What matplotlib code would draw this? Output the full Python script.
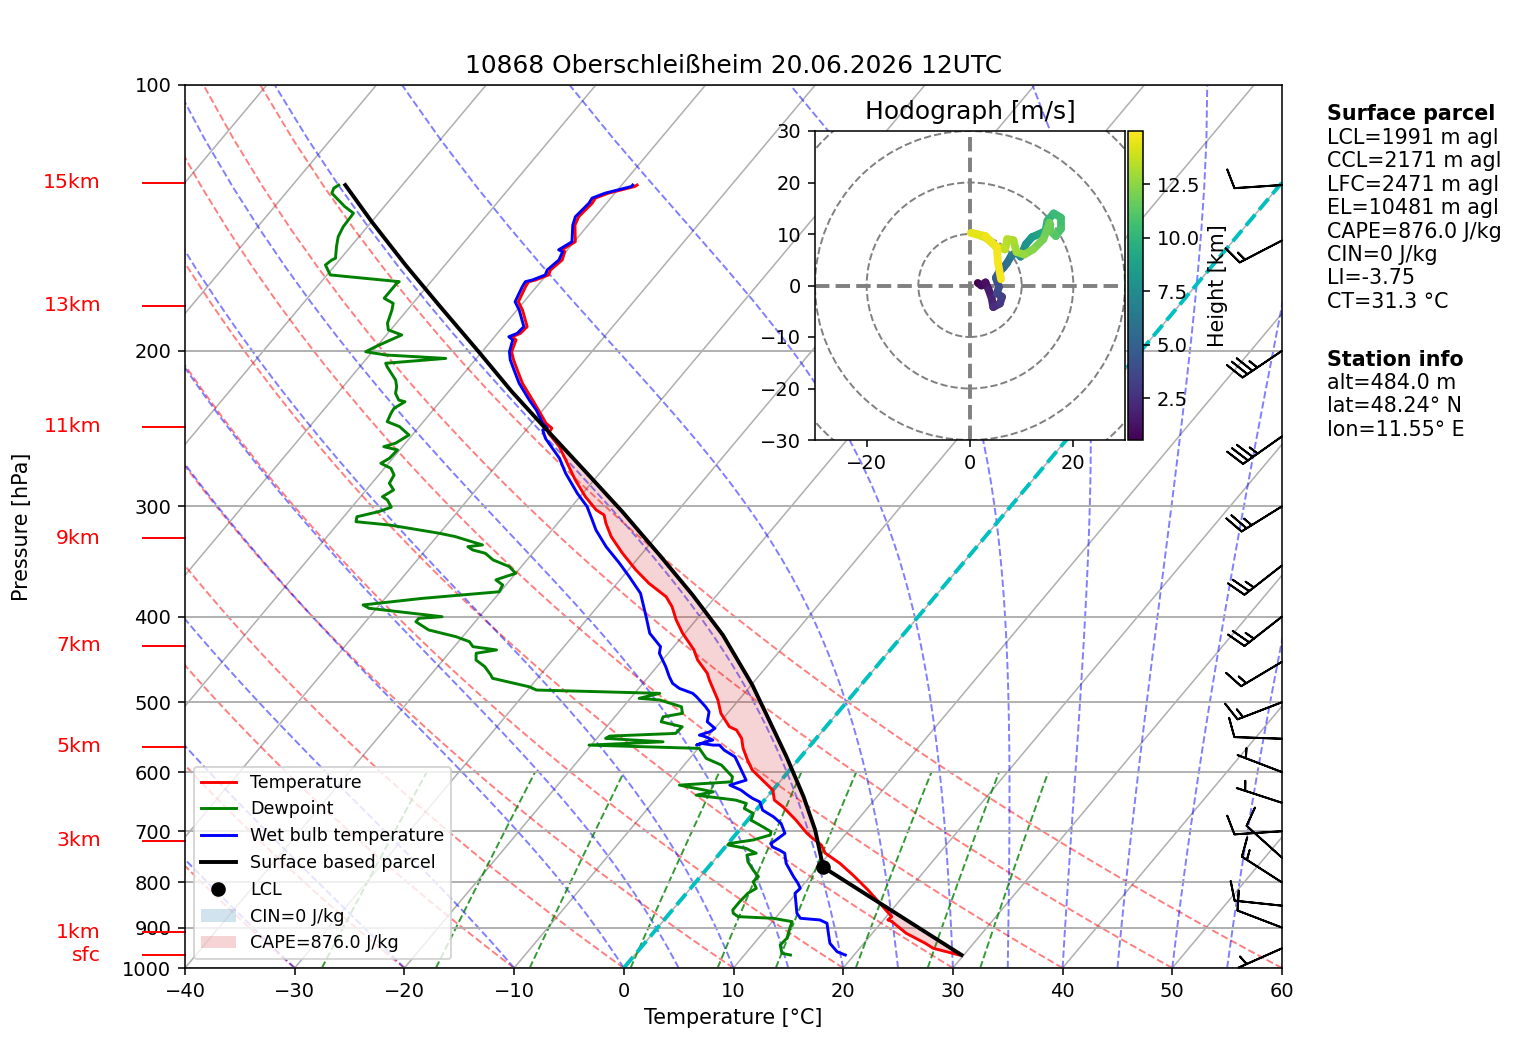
import numpy as np
import matplotlib
matplotlib.use("Agg")
import matplotlib.pyplot as plt
import matplotlib.transforms as mtransforms
from matplotlib.collections import LineCollection
from matplotlib.patches import Patch, Circle
from matplotlib.colors import Normalize
from matplotlib.ticker import NullLocator

# ---------------------------------------------------------------------------
# Sounding data
# ---------------------------------------------------------------------------
T_P = [966.7, 949.9, 937.6, 913.5, 886.1, 882.2, 874.7, 815.9, 784.9, 761.1,
       741.3, 725.5, 713.0, 703.8, 680.1, 656.9, 645.5, 628.9, 612.7, 596.9,
       581.5, 564.0, 549.5, 537.7, 533.1, 514.8, 497.1, 471.9, 463.7, 447.9,
       436.3, 417.8, 403.6, 389.8, 379.8, 366.7, 354.2, 339.1, 324.7, 313.6,
       306.9, 302.9, 292.6, 280.1, 268.2, 256.8, 248.0, 244.7, 241.6, 233.4,
       227.4, 217.7, 210.2, 204.8, 200.5, 194.4, 192.8, 191.1, 187.8, 179.8,
       176.0, 169.2, 167.0, 166.3, 164.1, 162.0, 157.8, 154.4, 153.7, 150.5,
       144.1, 141.0, 136.1, 134.3, 132.6, 130.3, 129.8]
T_C = [29.6, 26.7, 25.6, 23.1, 20.9, 20.4, 20.5, 16.3, 13.8, 11.7,
       9.6, 8.6, 7.3, 6.4, 4.4, 2.2, 0.9, 0.0, -1.7, -3.4,
       -4.6, -5.9, -6.8, -7.9, -8.8, -10.6, -11.9, -14.2, -14.9, -16.8,
       -17.9, -20.2, -21.8, -23.2, -24.5, -27.1, -29.3, -31.8, -34.1, -35.6,
       -36.4, -37.5, -39.5, -41.7, -43.7, -45.7, -47.7, -47.8, -48.7, -50.4,
       -51.7, -53.9, -55.4, -56.5, -57.3, -57.8, -58.4, -57.9, -57.8, -59.5,
       -60.5, -61.0, -61.1, -60.6, -59.8, -60.0, -59.7, -60.1, -60.5, -59.9,
       -61.2, -61.5, -61.3, -61.4, -60.6, -58.7, -58.6]

TD_P = [966.7, 962.4, 941.8, 925.5, 901.7, 886.1, 878.4, 874.7, 867.0, 859.6,
        841.4, 822.9, 812.4, 798.5, 788.1, 774.5, 758.0, 744.9, 741.3, 732.0,
        725.5, 722.8, 716.2, 706.9, 700.8, 689.0, 680.1, 668.3, 659.7, 651.1,
        645.5, 637.2, 631.7, 620.7, 615.4, 607.4, 589.1, 578.9, 564.0, 559.2,
        554.4, 549.5, 546.2, 542.4, 533.1, 526.2, 519.4, 514.8, 506.0, 497.1,
        495.0, 488.6, 484.4, 480.3, 469.8, 465.8, 455.7, 447.9, 440.1, 436.3,
        432.6, 427.0, 421.5, 414.2, 405.4, 401.8, 400.1, 391.4, 388.0, 381.4,
        374.9, 368.3, 363.5, 361.9, 357.3, 351.1, 345.0, 339.1, 336.2, 333.3,
        331.8, 324.7, 321.9, 315.0, 312.3, 308.3, 304.2, 300.7, 295.1, 292.6,
        287.5, 282.5, 276.5, 271.7, 268.2, 264.7, 259.0, 256.8, 254.5, 249.1,
        243.7, 240.6, 235.3, 232.3, 228.4, 227.4, 223.5, 219.7, 215.9, 208.5,
        206.6, 204.0, 202.2, 200.5, 197.9, 191.9, 189.4, 186.1, 179.8, 176.7,
        174.4, 167.7, 167.0, 164.1, 159.9, 157.8, 157.1, 152.4, 148.5, 144.7,
        139.7, 137.3, 132.6, 130.9, 129.8]
TD_C = [14.2, 13.3, 12.5, 12.6, 12.1, 11.8, 9.8, 6.5, 5.8, 5.5,
        5.5, 5.6, 6.0, 5.2, 5.3, 4.3, 3.2, 2.6, 3.3, 2.0,
        0.1, 0.1, 2.0, 3.2, 3.0, 1.5, 0.3, 0.0, -1.2, -1.4,
        -2.6, -6.6, -5.3, -8.9, -4.4, -4.7, -6.6, -8.5, -9.9, -20.2,
        -13.7, -19.2, -19.0, -13.2, -13.1, -15.4, -15.6, -14.1, -14.7, -17.2,
        -19.2, -17.7, -29.2, -30.1, -34.1, -34.5, -35.7, -37.0, -37.5, -35.9,
        -38.3, -39.0, -40.6, -43.6, -45.4, -45.4, -43.4, -50.7, -51.5, -46.6,
        -40.1, -40.3, -41.3, -41.0, -40.0, -41.1, -43.1, -44.3, -45.7, -46.4,
        -45.2, -48.3, -50.0, -55.2, -58.5, -58.8, -57.2, -56.4, -57.3, -58.0,
        -57.5, -58.4, -58.6, -59.4, -60.7, -60.3, -60.2, -61.7, -60.9, -60.3,
        -61.8, -63.3, -63.6, -63.7, -63.2, -63.9, -64.7, -65.1, -65.7, -67.5,
        -67.9, -62.8, -68.5, -70.6, -70.1, -68.6, -70.2, -70.8, -71.4, -71.8,
        -73.0, -73.0, -72.9, -79.7, -80.9, -80.7, -80.5, -81.3, -81.9, -82.2,
        -82.3, -83.6, -85.8, -86.0, -85.8]

WB_P = [966.7, 958.4, 937.6, 913.5, 889.8, 882.2, 878.4, 867.0, 822.9, 812.4,
        801.7, 788.1, 761.1, 741.3, 735.5, 729.2, 722.8, 716.2, 703.8, 686.0,
        674.2, 662.6, 648.4, 642.7, 637.2, 628.9, 620.7, 612.7, 596.9, 576.5,
        566.5, 559.2, 559.2, 556.7, 559.2, 554.4, 551.9, 547.2, 544.8, 540.1,
        535.3, 526.2, 512.6, 506.0, 492.9, 488.6, 482.3, 476.0, 467.9, 455.7,
        440.1, 432.6, 417.8, 400.1, 376.4, 360.4, 348.1, 333.3, 319.1, 310.9,
        300.2, 290.0, 275.2, 264.7, 251.3, 245.8, 244.7, 241.6, 233.4, 227.4,
        217.7, 210.2, 204.8, 200.5, 194.4, 192.8, 191.1, 187.8, 179.8, 176.0,
        169.2, 167.0, 166.3, 164.1, 162.0, 157.8, 154.4, 153.7, 150.5, 144.1,
        141.0, 136.1, 134.3, 132.6, 130.3, 129.8]
WB_C = [19.2, 18.2, 16.9, 16.0, 15.1, 14.2, 12.3, 11.6, 9.9, 10.0,
        9.4, 8.5, 6.8, 5.9, 5.2, 4.3, 3.9, 4.1, 4.4, 3.3,
        2.1, 0.6, -0.3, -1.2, -1.9, -2.9, -4.3, -3.2, -4.4, -6.0,
        -7.5, -8.3, -8.9, -10.1, -10.4, -9.8, -9.3, -10.2, -10.9, -10.2,
        -10.0, -11.2, -11.8, -12.5, -14.1, -14.7, -16.3, -17.3, -18.1, -19.2,
        -20.8, -21.2, -23.2, -24.8, -27.1, -29.4, -31.3, -33.8, -36.0, -37.1,
        -38.6, -40.5, -43.1, -44.8, -47.6, -48.5, -48.2, -49.0, -50.6, -52.0,
        -54.2, -55.7, -56.8, -57.5, -58.1, -58.7, -58.2, -58.1, -59.8, -60.8,
        -61.3, -61.4, -60.9, -60.1, -60.3, -60.0, -60.3, -60.8, -60.2, -61.4,
        -61.8, -61.6, -61.7, -60.9, -59.0, -59.0]

PARCEL_P = [966.7, 769.0, 761.1, 697.7, 639.7, 576.5, 523.8, 478.1, 419.7, 378.2,
            340.6, 304.2, 274.1, 244.7, 222.6, 200.5, 177.5, 159.9, 142.8, 129.8]
PARCEL_C = [29.8, 10.5, 10.1, 6.9, 3.3, -1.3, -5.7, -9.9, -16.4, -22.2,
            -28.3, -35.0, -41.4, -48.4, -54.2, -60.3, -67.5, -73.6, -80.0, -85.2]

LCL_P = [769.0]
LCL_C = [10.5]

# wind barbs (knots) at the right edge
BARB_P = [129.8, 150.0, 200.0, 250.0, 300.0, 350.0, 400.0, 450.0, 500.0,
          550.0, 600.0, 650.0, 700.0, 750.0, 800.0, 850.0, 900.0, 950.0]
BARB_U = [9.98, 13.3, 29.0, 28.6, 21.2, 19.7, 19.7, 12.9, 14.0,
          10.0, 4.67, 4.76, 9.98, 7.43, 12.6, 9.95, 9.34, 4.57]
BARB_V = [0.66, 6.9, 19.6, 20.2, 13.2, 15.4, 15.4, 7.7, 5.4,
          -0.35, -1.79, -1.55, 0.66, -6.69, -8.1, -1.05, -3.58, 2.03]

# hodograph (m/s) coloured by height (km)
HODO_H = [0.54, 0.9, 1.2, 1.6, 2.0, 2.4, 2.8, 3.2, 3.6, 4.0, 4.5, 5.0, 5.5,
          6.0, 6.5, 7.0, 7.5, 8.0, 8.5, 9.0, 9.5, 10.0, 10.3, 10.6, 10.9,
          11.2, 11.5, 11.8, 12.1, 12.4, 12.7, 13.0, 13.2, 13.4, 13.6, 13.8,
          14.0, 14.2, 14.4, 14.6, 14.7, 14.8, 14.98]
HODO_U = [1.5, 2.2, 3.0, 3.6, 4.2, 4.5, 5.8, 6.2, 5.2, 5.6, 5.0, 5.6, 6.5,
          7.2, 8.0, 9.0, 9.8, 10.8, 12.0, 13.2, 14.6, 15.0, 16.2, 17.6, 17.6,
          16.6, 15.6, 15.4, 14.2, 12.2, 10.5, 9.0, 8.4, 7.2, 6.8, 5.0,
          3.2, 1.2, 0.2, 3.0, 5.2, 5.4, 6.0]
HODO_V = [0.5, 0.0, 0.6, -0.8, -2.5, -4.2, -3.5, -2.2, -1.5, -0.3, 1.5, 2.6, 3.5,
          4.4, 5.8, 6.5, 5.6, 8.0, 9.4, 9.9, 10.6, 12.6, 14.0, 13.2, 11.0,
          9.6, 10.6, 12.2, 9.0, 7.0, 6.0, 6.5, 8.8, 9.0, 7.0, 7.6,
          9.2, 10.0, 10.2, 9.6, 7.4, 4.5, 1.2]

HEIGHT_LABELS = ["15km", "13km", "11km", "9km", "7km", "5km", "3km", "1km", "sfc"]
HEIGHT_P = [129.1, 177.9, 243.9, 326.0, 431.7, 561.9, 718.0, 910.5, 966.7]

PRESSURE_TICKS = [100, 200, 300, 400, 500, 600, 700, 800, 900, 1000]
TEMP_TICKS = [-40, -30, -20, -10, 0, 10, 20, 30, 40, 50, 60]

DRY_T0 = [-40, -30, -20, -10, 0, 10, 20, 30, 40, 50, 60]
MOIST_T0 = [-40, -30, -20, -10, 0, 5, 10, 15, 20, 25, 30, 35, 40, 45, 50, 55, 60]
MIXING_RATIOS = [0.0004, 0.001, 0.002, 0.004, 0.007, 0.01, 0.016, 0.024, 0.032]

TITLE = "10868 Oberschleißheim 20.06.2026 12UTC"
CAPE_LABEL = "CAPE=876.0 J/kg"
CIN_LABEL = "CIN=0 J/kg"
PARCEL_LINES = ["LCL=1991 m agl", "CCL=2171 m agl", "LFC=2471 m agl",
                "EL=10481 m agl", "CAPE=876.0 J/kg", "CIN=0 J/kg",
                "LI=-3.75", "CT=31.3 °C"]
STATION_LINES = ["alt=484.0 m", "lat=48.24° N", "lon=11.55° E"]

# ---------------------------------------------------------------------------
# Thermodynamic helper lines
# ---------------------------------------------------------------------------
RD, CP, LV, EPS = 287.04, 1005.7, 2.501e6, 0.622


def sat_vp(t_k):
    return 6.112 * np.exp(17.67 * (t_k - 273.15) / (t_k - 29.65))


def moist_lapse(t0_c, p):
    def dtdp(t, pp):
        rs = EPS * sat_vp(t) / (pp - sat_vp(t))
        return ((RD * t + LV * rs) / pp) / (CP + LV * LV * rs * EPS / (RD * t * t))
    t = np.asarray(t0_c, float) + 273.15
    out = [t.copy()]
    for p0, p1 in zip(p[:-1], p[1:]):
        n = 6
        h = (p1 - p0) / n
        pp = p0
        for _ in range(n):
            k1 = dtdp(t, pp)
            k2 = dtdp(t + h / 2 * k1, pp + h / 2)
            k3 = dtdp(t + h / 2 * k2, pp + h / 2)
            k4 = dtdp(t + h * k3, pp + h)
            t = t + h / 6 * (k1 + 2 * k2 + 2 * k3 + k4)
            pp += h
        out.append(t.copy())
    return np.array(out) - 273.15


def dewpoint_from_w(w, p):
    e = w * p / (EPS + w)
    lg = np.log(e / 6.112)
    return 243.5 * lg / (17.67 - lg)


# ---------------------------------------------------------------------------
# Figure
# ---------------------------------------------------------------------------
DPI = 140
W_PX, H_PX = 1517, 1054
SKEW_DEG = 34.0
FS_LABEL = 10.6
FS_TITLE = 12.8

fig = plt.figure(figsize=(W_PX / DPI, H_PX / DPI), dpi=DPI)
ax = fig.add_axes([185 / W_PX, 1 - 968 / H_PX, 1097 / W_PX, 883 / H_PX])
ax.set_yscale("log")
ax.set_xlim(-40, 60)
ax.set_ylim(1000, 100)
ax.autoscale(False)

skew = (ax.transScale + ax.transLimits
        + mtransforms.Affine2D().skew_deg(SKEW_DEG, 0) + ax.transAxes)

ax.set_yticks(PRESSURE_TICKS)
ax.set_yticklabels([str(p) for p in PRESSURE_TICKS])
ax.yaxis.set_minor_locator(NullLocator())
ax.set_xticks(TEMP_TICKS)
ax.yaxis.grid(True, color="#b0b0b0", lw=1.0, zorder=0)

# skewed isotherms
for t in range(-110, 61, 10):
    ax.plot([t, t], [1000, 100], color="#b0b0b0", lw=0.8, transform=skew, zorder=1)

p_adiab = np.linspace(1000, 100, 60)
for t0 in DRY_T0:
    t_dry = (t0 + 273.15) * (p_adiab / 1000.0) ** 0.2857 - 273.15
    ax.plot(t_dry, p_adiab, color="r", alpha=0.5, ls="--", lw=1, transform=skew, zorder=1)

t_moist = moist_lapse(MOIST_T0, p_adiab)
for i in range(len(MOIST_T0)):
    ax.plot(t_moist[:, i], p_adiab, color="b", alpha=0.5, ls="--", lw=1,
            transform=skew, zorder=1)

p_mix = np.linspace(1000, 600, 30)
for w in MIXING_RATIOS:
    ax.plot(dewpoint_from_w(w, p_mix), p_mix, color="g", alpha=0.8, ls="--", lw=1,
            transform=skew, zorder=1)

ax.plot([0, 0], [1000, 100], color="c", ls="--", lw=2, transform=skew, zorder=2)

# CAPE shading
log_tp = np.log(T_P)[::-1]
parcel_on_env = np.interp(log_tp, np.log(PARCEL_P)[::-1], np.array(PARCEL_C)[::-1])[::-1]
ax.fill_betweenx(T_P, T_C, parcel_on_env, where=parcel_on_env > np.array(T_C),
                 interpolate=True, facecolor="tab:red", alpha=0.2, lw=0,
                 transform=skew, zorder=2)

l_t, = ax.plot(T_C, T_P, color="r", lw=1.5, transform=skew, zorder=4, label="Temperature")
l_td, = ax.plot(TD_C, TD_P, color="g", lw=1.5, transform=skew, zorder=4, label="Dewpoint")
l_wb, = ax.plot(WB_C, WB_P, color="b", lw=1.5, transform=skew, zorder=4,
                label="Wet bulb temperature")
l_pc, = ax.plot(PARCEL_C, PARCEL_P, color="k", lw=2, transform=skew, zorder=5,
                label="Surface based parcel")
l_lcl, = ax.plot(LCL_C, LCL_P, "ko", markersize=6.5, transform=skew, zorder=6,
                 ls="none", label="LCL")

ax.barbs(np.ones(len(BARB_P)), BARB_P, BARB_U, BARB_V,
         transform=ax.get_yaxis_transform(), clip_on=False, zorder=6)

# height markers on the left
ytr = ax.get_yaxis_transform()
for lbl, p in zip(HEIGHT_LABELS, HEIGHT_P):
    ax.plot([-0.0383, 0], [p, p], color="r", lw=1, transform=ytr, clip_on=False)
    ax.text(-0.0766, p, lbl, color="r", ha="right", va="center", transform=ytr,
            fontsize=10.5)

ax.set_title(TITLE, fontsize=FS_TITLE)
ax.set_xlabel("Temperature [°C]", fontsize=FS_LABEL)
ax.set_ylabel("Pressure [hPa]", fontsize=FS_LABEL)
ax.yaxis.set_label_coords(-0.1395, 0.5)

handles = [l_t, l_td, l_wb, l_pc, l_lcl,
           Patch(facecolor="tab:blue", alpha=0.2, label=CIN_LABEL),
           Patch(facecolor="tab:red", alpha=0.2, label=CAPE_LABEL)]
ax.legend(handles=handles, loc="lower left", fontsize=9)

# ---------------------------------------------------------------------------
# Hodograph inset
# ---------------------------------------------------------------------------
hax = fig.add_axes([815 / W_PX, 1 - 440 / H_PX, 310 / W_PX, 309 / H_PX])
hax.set_xlim(-30, 30)
hax.set_ylim(-30, 30)
for r in (10, 20, 30, 40):
    hax.add_patch(Circle((0, 0), r, fill=False, ls="--", color="grey", lw=1))
hax.axhline(0, color="grey", ls="--", lw=2)
hax.axvline(0, color="grey", ls="--", lw=2)
pts = np.column_stack([HODO_U, HODO_V]).reshape(-1, 1, 2)
segs = np.concatenate([pts[:-1], pts[1:]], axis=1)
lc = LineCollection(segs, cmap="viridis", lw=4, capstyle="round",
                    norm=Normalize(min(HODO_H), max(HODO_H)))
lc.set_array(np.array(HODO_H[:-1]))
hax.add_collection(lc)
hax.set_xticks([-20, 0, 20])
hax.set_yticks([-30, -20, -10, 0, 10, 20, 30])
hax.set_title("Hodograph [m/s]", fontsize=FS_TITLE)

cax = fig.add_axes([1128 / W_PX, 1 - 440 / H_PX, 15 / W_PX, 309 / H_PX])
cb = fig.colorbar(lc, cax=cax)
cb.set_label("Height [km]", fontsize=FS_LABEL)

# ---------------------------------------------------------------------------
# Info text
# ---------------------------------------------------------------------------
tx = 1327 / W_PX
fig.text(tx, 1 - 114 / H_PX, "Surface parcel", fontweight="bold", va="center",
         fontsize=FS_LABEL)
for i, line in enumerate(PARCEL_LINES):
    fig.text(tx, 1 - (138 + i * 23.4) / H_PX, line, va="center", fontsize=FS_LABEL)
fig.text(tx, 1 - 360 / H_PX, "Station info", fontweight="bold", va="center",
         fontsize=FS_LABEL)
for i, line in enumerate(STATION_LINES):
    fig.text(tx, 1 - (383 + i * 23.4) / H_PX, line, va="center", fontsize=FS_LABEL)

fig.savefig("out.png", dpi=DPI)
